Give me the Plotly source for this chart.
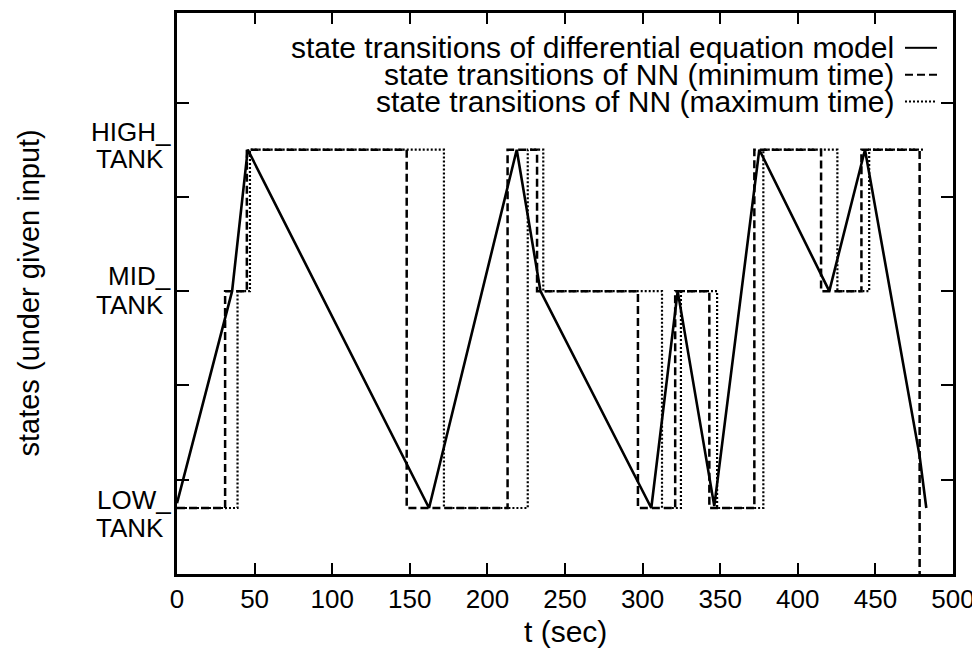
import plotly.graph_objects as go

# --- data ---
# differential equation model (solid): vertices (t, state level)
de_t = [0, 35.5, 45.6, 162.4, 218.9, 234.2, 305.6, 322.6, 346.2, 375.2, 420.3, 443.3, 478.5, 482.8]
de_y = [0.75, 3.0, 4.5, 0.7, 4.5, 3.0, 0.7, 3.0, 0.72, 4.5, 3.0, 4.5, 1.25, 0.7]

# NN minimum time (dashed): step change times and new levels
min_t = [0, 31, 45, 148, 213, 232, 297, 321, 343, 372, 415, 441, 478.5]
min_y = [0.7, 3, 4.5, 0.7, 4.5, 3, 0.7, 3, 0.7, 4.5, 3, 4.5, 0]

# NN maximum time (dotted)
max_t = [0, 39, 47, 172, 226, 236, 312.5, 324.7, 348, 377.8, 425.5, 446, 481.3]
max_y = [0.7, 3, 4.5, 0.7, 4.5, 3, 0.7, 3, 0.7, 4.5, 3, 4.5, 4.5]

x_ticks = list(range(0, 501, 50))
y_ticks = [1, 2, 3, 4, 5]

state_labels = ["HIGH_", "TANK", "MID_", "TANK", "LOW_", "TANK"]
state_label_y = [4.69, 4.40, 3.16, 2.85, 0.78, 0.49]

legend_names = [
    "state transitions of differential equation model",
    "state transitions of NN (minimum time)",
    "state transitions of NN (maximum time)",
]

FONT = "Liberation Sans, Arial, Helvetica, sans-serif"
FS_TICK = 26
FS_LEG = 30
FS_TITLE = 30

fig = go.Figure()
fig.add_trace(go.Scatter(x=min_t, y=min_y, mode="lines", line_shape="hv",
                         line=dict(color="black", width=2.5, dash="8px,4px"),
                         name=legend_names[1], showlegend=False))
fig.add_trace(go.Scatter(x=max_t, y=max_y, mode="lines", line_shape="hv",
                         line=dict(color="black", width=2.2, dash="2px,2px"),
                         name=legend_names[2], showlegend=False))
fig.add_trace(go.Scatter(x=de_t, y=de_y, mode="lines",
                         line=dict(color="black", width=2.6),
                         name=legend_names[0], showlegend=False))

# the page body adds an 8px offset; figure is sized to fit the 980x653 window
OFF = 8
W, H = 972, 645
L, R, T, B = 169, 27, 2, 79
pw, ph = W - L - R, H - T - B

def px_x(p):
    # window pixel -> paper x
    return (p - OFF - L) / pw

def px_y(p):
    # window pixel -> paper y
    return (OFF + H - B - p) / ph

annotations = []
for txt, yv in zip(state_labels, state_label_y):
    xr = 173 if txt.endswith("_") else 166
    annotations.append(dict(text=txt, x=px_x(xr), xref="paper", y=yv, yref="y",
                            xanchor="right", yanchor="middle", showarrow=False,
                            font=dict(family=FONT, size=FS_TICK, color="black")))

# legend (text right aligned, sample line to the right)
leg_rows = [45, 72, 99]
dashes = ["solid", "8px,4px", "2px,2px"]
shapes = []
for name, row, d in zip(legend_names, leg_rows, dashes):
    annotations.append(dict(text=name, x=px_x(896), xref="paper", y=px_y(row), yref="paper",
                            xanchor="right", yanchor="middle", showarrow=False,
                            font=dict(family=FONT, size=FS_LEG, color="black")))
    shapes.append(dict(type="line", xref="paper", yref="paper",
                       x0=px_x(905), x1=px_x(937), y0=px_y(row), y1=px_y(row),
                       line=dict(color="black", width=2, dash=d)))

annotations.append(dict(text="t (sec)", x=px_x(565), xref="paper", y=px_y(632), yref="paper",
                        xanchor="center", yanchor="middle", showarrow=False,
                        font=dict(family=FONT, size=FS_TITLE, color="black")))
annotations.append(dict(text="states (under given input)", x=px_x(28), xref="paper",
                        y=px_y(292), yref="paper", xanchor="center", yanchor="middle",
                        textangle=-90, showarrow=False,
                        font=dict(family=FONT, size=29, color="black")))

fig.update_layout(
    width=W, height=H,
    margin=dict(l=L, r=R, t=T, b=B),
    paper_bgcolor="white", plot_bgcolor="white",
    showlegend=False,
    annotations=annotations, shapes=shapes,
    xaxis=dict(range=[0, 500], tickvals=x_ticks, ticktext=[str(v) for v in x_ticks],
               ticks="inside", ticklen=11, tickwidth=2, tickcolor="black",
               showline=True, linewidth=2.5, linecolor="black", mirror="ticks",
               showgrid=False, zeroline=False,
               tickfont=dict(family=FONT, size=FS_TICK, color="black")),
    yaxis=dict(range=[0, 5.95], tickvals=y_ticks, showticklabels=False,
               ticks="inside", ticklen=12, tickwidth=2, tickcolor="black",
               showline=True, linewidth=2.5, linecolor="black", mirror="ticks",
               showgrid=False, zeroline=False),
)

fig.write_html("out.html")
